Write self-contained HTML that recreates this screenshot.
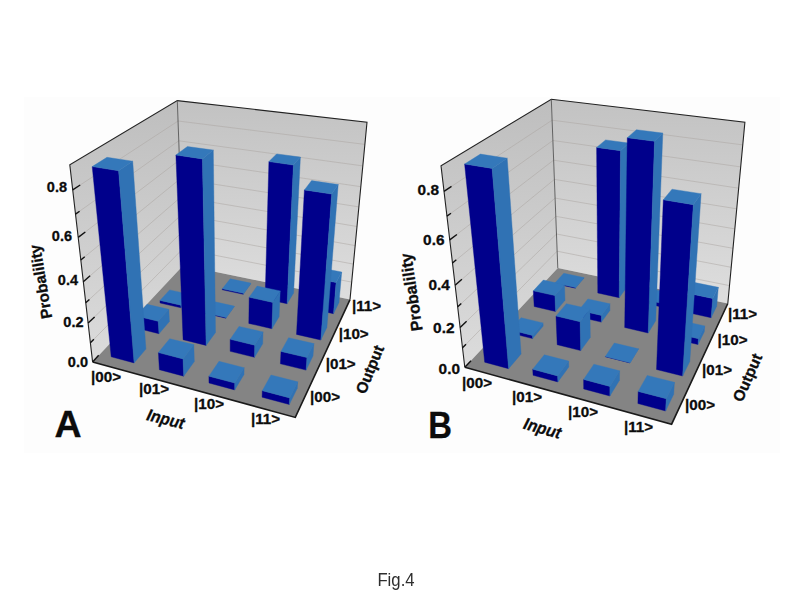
<!DOCTYPE html>
<html><head><meta charset="utf-8"><title>Fig.4</title>
<style>
html,body{margin:0;padding:0;background:#fff;width:800px;height:600px;overflow:hidden;font-family:"Liberation Sans",sans-serif;}
</style></head><body>
<svg width="800" height="600" viewBox="0 0 800 600" style="position:absolute;left:0;top:0;filter:blur(0.55px)">
<defs>
<linearGradient id="wl" x1="0" y1="0" x2="0" y2="1"><stop offset="0" stop-color="#bebebe"/><stop offset="1" stop-color="#dcdcdc"/></linearGradient>
<linearGradient id="wb" x1="0" y1="0" x2="0" y2="1"><stop offset="0" stop-color="#c2c2c2"/><stop offset="1" stop-color="#dedede"/></linearGradient>
</defs>
<rect x="24" y="97" width="756" height="356" fill="#fdfdfd"/>
<g>
<polygon points="92.6,361.9 183.3,265.3 177.3,100.6 69.8,164.9" fill="url(#wl)" />
<polygon points="183.3,265.3 350.0,299.6 367.0,122.2 177.3,100.6" fill="url(#wb)" />
<polyline points="90.4,342.8 182.7,248.9 351.7,282.1" fill="none" stroke="#aaa4a0" stroke-opacity="0.55" stroke-width="0.9"/>
<polyline points="88.1,323.1 182.1,232.0 353.4,264.1" fill="none" stroke="#aaa4a0" stroke-opacity="0.55" stroke-width="0.9"/>
<polyline points="85.7,302.8 181.5,214.7 355.2,245.6" fill="none" stroke="#aaa4a0" stroke-opacity="0.55" stroke-width="0.9"/>
<polyline points="83.3,281.7 180.9,197.0 357.0,226.5" fill="none" stroke="#aaa4a0" stroke-opacity="0.55" stroke-width="0.9"/>
<polyline points="80.8,260.0 180.2,178.8 358.9,206.9" fill="none" stroke="#aaa4a0" stroke-opacity="0.55" stroke-width="0.9"/>
<polyline points="78.2,237.4 179.5,160.0 360.8,186.7" fill="none" stroke="#aaa4a0" stroke-opacity="0.55" stroke-width="0.9"/>
<polyline points="75.5,214.1 178.8,140.8 362.8,165.9" fill="none" stroke="#aaa4a0" stroke-opacity="0.55" stroke-width="0.9"/>
<polyline points="72.7,189.9 178.1,121.0 364.9,144.4" fill="none" stroke="#aaa4a0" stroke-opacity="0.55" stroke-width="0.9"/>
<polygon points="92.6,361.9 295.3,417.4 350.0,299.6 183.3,265.3" fill="#848484" />
<polyline points="92.6,361.9 69.8,164.9 177.3,100.6 367.0,122.2 350.0,299.6" fill="none" stroke="#222" stroke-width="1.1"/>
<polyline points="177.3,100.6 183.3,265.3" fill="none" stroke="#555" stroke-width="0.9"/>
<polygon points="222.3,289.8 243.3,294.3 243.3,293.3 222.3,288.8" fill="#00008b" stroke="#00008b" stroke-width="0.4"/>
<polygon points="243.3,294.3 250.7,284.1 250.7,283.1 243.3,293.3" fill="#3072b4" stroke="#3072b4" stroke-width="0.4"/>
<polygon points="222.3,288.8 243.3,293.3 250.7,283.1 230.2,278.8" fill="#3478ba" stroke="#3478ba" stroke-width="0.4"/>
<polygon points="265.1,299.0 287.1,303.7 293.4,165.1 268.9,161.6" fill="#00008b" stroke="#00008b" stroke-width="0.4"/>
<polygon points="287.1,303.7 293.6,293.1 300.4,157.1 293.4,165.1" fill="#3072b4" stroke="#3072b4" stroke-width="0.4"/>
<polygon points="268.9,161.6 293.4,165.1 300.4,157.1 276.6,153.9" fill="#3478ba" stroke="#3478ba" stroke-width="0.4"/>
<polygon points="310.5,308.8 333.5,313.7 336.1,282.6 312.5,277.9" fill="#00008b" stroke="#00008b" stroke-width="0.4"/>
<polygon points="333.5,313.7 339.0,302.5 341.7,272.0 336.1,282.6" fill="#3072b4" stroke="#3072b4" stroke-width="0.4"/>
<polygon points="312.5,277.9 336.1,282.6 341.7,272.0 318.5,267.5" fill="#3478ba" stroke="#3478ba" stroke-width="0.4"/>
<polygon points="160.1,303.0 181.0,307.8 180.9,305.2 160.0,300.4" fill="#00008b" stroke="#00008b" stroke-width="0.4"/>
<polygon points="181.0,307.8 190.2,297.0 190.2,294.4 180.9,305.2" fill="#3072b4" stroke="#3072b4" stroke-width="0.4"/>
<polygon points="160.0,300.4 180.9,305.2 190.2,294.4 169.6,289.9" fill="#3478ba" stroke="#3478ba" stroke-width="0.4"/>
<polygon points="204.0,313.1 225.9,318.2 225.9,317.5 204.0,312.4" fill="#00008b" stroke="#00008b" stroke-width="0.4"/>
<polygon points="225.9,318.2 234.2,306.8 234.2,306.1 225.9,317.5" fill="#3072b4" stroke="#3072b4" stroke-width="0.4"/>
<polygon points="204.0,312.4 225.9,317.5 234.2,306.1 212.7,301.3" fill="#3478ba" stroke="#3478ba" stroke-width="0.4"/>
<polygon points="248.8,323.4 271.9,328.7 272.8,302.4 249.2,297.3" fill="#00008b" stroke="#00008b" stroke-width="0.4"/>
<polygon points="271.9,328.7 279.1,316.8 280.2,290.9 272.8,302.4" fill="#3072b4" stroke="#3072b4" stroke-width="0.4"/>
<polygon points="249.2,297.3 272.8,302.4 280.2,290.9 257.1,286.1" fill="#3478ba" stroke="#3478ba" stroke-width="0.4"/>
<polygon points="296.5,334.4 320.8,340.0 331.7,194.1 304.4,189.9" fill="#00008b" stroke="#00008b" stroke-width="0.4"/>
<polygon points="320.8,340.0 326.9,327.4 338.2,184.5 331.7,194.1" fill="#3072b4" stroke="#3072b4" stroke-width="0.4"/>
<polygon points="304.4,189.9 331.7,194.1 338.2,184.5 311.6,180.6" fill="#3478ba" stroke="#3478ba" stroke-width="0.4"/>
<polygon points="137.1,328.3 159.0,333.7 158.2,321.3 136.2,315.9" fill="#00008b" stroke="#00008b" stroke-width="0.4"/>
<polygon points="159.0,333.7 169.4,321.5 168.8,309.3 158.2,321.3" fill="#3072b4" stroke="#3072b4" stroke-width="0.4"/>
<polygon points="136.2,315.9 158.2,321.3 168.8,309.3 147.1,304.3" fill="#3478ba" stroke="#3478ba" stroke-width="0.4"/>
<polygon points="183.1,339.7 206.1,345.4 202.4,158.9 175.9,155.0" fill="#00008b" stroke="#00008b" stroke-width="0.4"/>
<polygon points="206.1,345.4 215.5,332.5 213.3,150.1 202.4,158.9" fill="#3072b4" stroke="#3072b4" stroke-width="0.4"/>
<polygon points="175.9,155.0 202.4,158.9 213.3,150.1 187.4,146.5" fill="#3478ba" stroke="#3478ba" stroke-width="0.4"/>
<polygon points="230.2,351.3 254.5,357.3 254.7,345.2 230.2,339.3" fill="#00008b" stroke="#00008b" stroke-width="0.4"/>
<polygon points="254.5,357.3 262.7,343.8 263.0,331.9 254.7,345.2" fill="#3072b4" stroke="#3072b4" stroke-width="0.4"/>
<polygon points="230.2,339.3 254.7,345.2 263.0,331.9 239.0,326.4" fill="#3478ba" stroke="#3478ba" stroke-width="0.4"/>
<polygon points="280.4,363.8 306.1,370.1 306.9,357.6 281.0,351.4" fill="#00008b" stroke="#00008b" stroke-width="0.4"/>
<polygon points="306.1,370.1 313.0,355.9 313.9,343.6 306.9,357.6" fill="#3072b4" stroke="#3072b4" stroke-width="0.4"/>
<polygon points="281.0,351.4 306.9,357.6 313.9,343.6 288.6,337.7" fill="#3478ba" stroke="#3478ba" stroke-width="0.4"/>
<polygon points="111.2,356.8 134.1,362.9 118.6,170.8 92.2,166.6" fill="#00008b" stroke="#00008b" stroke-width="0.4"/>
<polygon points="134.1,362.9 145.9,349.1 132.7,161.2 118.6,170.8" fill="#3072b4" stroke="#3072b4" stroke-width="0.4"/>
<polygon points="92.2,166.6 118.6,170.8 132.7,161.2 107.0,157.3" fill="#3478ba" stroke="#3478ba" stroke-width="0.4"/>
<polygon points="159.4,369.7 183.7,376.2 183.0,358.9 158.4,352.6" fill="#00008b" stroke="#00008b" stroke-width="0.4"/>
<polygon points="183.7,376.2 194.3,361.6 193.8,344.6 183.0,358.9" fill="#3072b4" stroke="#3072b4" stroke-width="0.4"/>
<polygon points="158.4,352.6 183.0,358.9 193.8,344.6 169.7,338.7" fill="#3478ba" stroke="#3478ba" stroke-width="0.4"/>
<polygon points="209.0,383.0 234.7,389.9 234.7,383.0 208.9,376.2" fill="#00008b" stroke="#00008b" stroke-width="0.4"/>
<polygon points="234.7,389.9 244.0,374.5 244.1,367.7 234.7,383.0" fill="#3072b4" stroke="#3072b4" stroke-width="0.4"/>
<polygon points="208.9,376.2 234.7,383.0 244.1,367.7 219.0,361.3" fill="#3478ba" stroke="#3478ba" stroke-width="0.4"/>
<polygon points="262.1,397.2 289.3,404.5 289.7,397.9 262.3,390.7" fill="#00008b" stroke="#00008b" stroke-width="0.4"/>
<polygon points="289.3,404.5 297.3,388.2 297.7,381.8 289.7,397.9" fill="#3072b4" stroke="#3072b4" stroke-width="0.4"/>
<polygon points="262.3,390.7 289.7,397.9 297.7,381.8 271.0,375.0" fill="#3478ba" stroke="#3478ba" stroke-width="0.4"/>
<polyline points="92.6,361.9 295.3,417.4 350.0,299.6" fill="none" stroke="#1a1a1a" stroke-width="1.6"/>
<line x1="92.6" y1="361.9" x2="98.7" y2="355.3" stroke="#111" stroke-width="1.4"/>
<line x1="90.4" y1="342.8" x2="93.9" y2="339.3" stroke="#111" stroke-width="1.4"/>
<line x1="88.1" y1="323.1" x2="94.6" y2="316.9" stroke="#111" stroke-width="1.4"/>
<line x1="85.7" y1="302.8" x2="89.4" y2="299.4" stroke="#111" stroke-width="1.4"/>
<line x1="83.3" y1="281.7" x2="90.1" y2="275.8" stroke="#111" stroke-width="1.4"/>
<line x1="80.8" y1="260.0" x2="84.7" y2="256.8" stroke="#111" stroke-width="1.4"/>
<line x1="78.2" y1="237.4" x2="85.3" y2="232.0" stroke="#111" stroke-width="1.4"/>
<line x1="75.5" y1="214.1" x2="79.6" y2="211.2" stroke="#111" stroke-width="1.4"/>
<line x1="72.7" y1="189.9" x2="80.2" y2="185.0" stroke="#111" stroke-width="1.4"/>
</g>
<g>
<polygon points="464.8,367.3 557.8,268.1 551.3,99.3 441.0,165.7" fill="url(#wl)" />
<polygon points="557.8,268.1 727.8,303.5 744.9,122.3 551.3,99.3" fill="url(#wb)" />
<polyline points="462.5,347.8 557.1,251.2 729.5,285.6" fill="none" stroke="#aaa4a0" stroke-opacity="0.55" stroke-width="0.9"/>
<polyline points="460.1,327.6 556.5,234.0 731.2,267.3" fill="none" stroke="#aaa4a0" stroke-opacity="0.55" stroke-width="0.9"/>
<polyline points="457.7,306.8 555.8,216.3 733.0,248.3" fill="none" stroke="#aaa4a0" stroke-opacity="0.55" stroke-width="0.9"/>
<polyline points="455.1,285.3 555.1,198.1 734.8,228.9" fill="none" stroke="#aaa4a0" stroke-opacity="0.55" stroke-width="0.9"/>
<polyline points="452.5,263.0 554.4,179.4 736.7,208.8" fill="none" stroke="#aaa4a0" stroke-opacity="0.55" stroke-width="0.9"/>
<polyline points="449.7,239.9 553.6,160.2 738.7,188.2" fill="none" stroke="#aaa4a0" stroke-opacity="0.55" stroke-width="0.9"/>
<polyline points="446.9,216.1 552.9,140.5 740.7,166.9" fill="none" stroke="#aaa4a0" stroke-opacity="0.55" stroke-width="0.9"/>
<polyline points="444.0,191.3 552.1,120.2 742.8,144.9" fill="none" stroke="#aaa4a0" stroke-opacity="0.55" stroke-width="0.9"/>
<polygon points="464.8,367.3 671.6,424.2 727.8,303.5 557.8,268.1" fill="#848484" />
<polyline points="464.8,367.3 441.0,165.7 551.3,99.3 744.9,122.3 727.8,303.5" fill="none" stroke="#222" stroke-width="1.1"/>
<polyline points="551.3,99.3 557.8,268.1" fill="none" stroke="#555" stroke-width="0.9"/>
<polygon points="554.9,283.7 575.4,288.2 575.3,287.5 554.9,283.0" fill="#00008b" stroke="#00008b" stroke-width="0.4"/>
<polygon points="575.4,288.2 583.9,278.2 583.8,277.5 575.3,287.5" fill="#3072b4" stroke="#3072b4" stroke-width="0.4"/>
<polygon points="554.9,283.0 575.3,287.5 583.8,277.5 563.8,273.3" fill="#3478ba" stroke="#3478ba" stroke-width="0.4"/>
<polygon points="597.8,293.0 619.2,297.7 620.5,150.7 596.6,147.4" fill="#00008b" stroke="#00008b" stroke-width="0.4"/>
<polygon points="619.2,297.7 626.8,287.2 628.9,143.1 620.5,150.7" fill="#3072b4" stroke="#3072b4" stroke-width="0.4"/>
<polygon points="596.6,147.4 620.5,150.7 628.9,143.1 605.6,139.9" fill="#3478ba" stroke="#3478ba" stroke-width="0.4"/>
<polygon points="641.4,302.5 663.8,307.4 664.0,303.8 641.5,299.0" fill="#00008b" stroke="#00008b" stroke-width="0.4"/>
<polygon points="663.8,307.4 670.5,296.4 670.6,292.9 664.0,303.8" fill="#3072b4" stroke="#3072b4" stroke-width="0.4"/>
<polygon points="641.5,299.0 664.0,303.8 670.6,292.9 648.7,288.4" fill="#3478ba" stroke="#3478ba" stroke-width="0.4"/>
<polygon points="687.7,312.6 711.1,317.7 712.7,298.5 688.9,293.5" fill="#00008b" stroke="#00008b" stroke-width="0.4"/>
<polygon points="711.1,317.7 716.7,306.2 718.3,287.3 712.7,298.5" fill="#3072b4" stroke="#3072b4" stroke-width="0.4"/>
<polygon points="688.9,293.5 712.7,298.5 718.3,287.3 695.0,282.6" fill="#3478ba" stroke="#3478ba" stroke-width="0.4"/>
<polygon points="534.2,306.5 555.6,311.5 554.9,295.6 533.3,290.8" fill="#00008b" stroke="#00008b" stroke-width="0.4"/>
<polygon points="555.6,311.5 565.0,300.3 564.5,284.7 554.9,295.6" fill="#3072b4" stroke="#3072b4" stroke-width="0.4"/>
<polygon points="533.3,290.8 554.9,295.6 564.5,284.7 543.3,280.1" fill="#3478ba" stroke="#3478ba" stroke-width="0.4"/>
<polygon points="579.0,316.9 601.4,322.1 601.4,315.4 578.8,310.2" fill="#00008b" stroke="#00008b" stroke-width="0.4"/>
<polygon points="601.4,322.1 609.9,310.4 609.9,303.8 601.4,315.4" fill="#3072b4" stroke="#3072b4" stroke-width="0.4"/>
<polygon points="578.8,310.2 601.4,315.4 609.9,303.8 587.9,298.9" fill="#3478ba" stroke="#3478ba" stroke-width="0.4"/>
<polygon points="624.7,327.5 648.2,333.0 654.5,141.3 627.3,137.7" fill="#00008b" stroke="#00008b" stroke-width="0.4"/>
<polygon points="648.2,333.0 655.7,320.7 662.8,133.1 654.5,141.3" fill="#3072b4" stroke="#3072b4" stroke-width="0.4"/>
<polygon points="627.3,137.7 654.5,141.3 662.8,133.1 636.4,129.7" fill="#3478ba" stroke="#3478ba" stroke-width="0.4"/>
<polygon points="673.3,338.8 698.0,344.5 698.4,338.7 673.6,333.0" fill="#00008b" stroke="#00008b" stroke-width="0.4"/>
<polygon points="698.0,344.5 704.3,331.7 704.7,325.9 698.4,338.7" fill="#3072b4" stroke="#3072b4" stroke-width="0.4"/>
<polygon points="673.6,333.0 698.4,338.7 704.7,325.9 680.5,320.6" fill="#3478ba" stroke="#3478ba" stroke-width="0.4"/>
<polygon points="510.2,333.0 532.6,338.6 532.4,335.4 509.9,329.8" fill="#00008b" stroke="#00008b" stroke-width="0.4"/>
<polygon points="532.6,338.6 543.2,326.0 543.0,322.9 532.4,335.4" fill="#3072b4" stroke="#3072b4" stroke-width="0.4"/>
<polygon points="509.9,329.8 532.4,335.4 543.0,322.9 521.1,317.7" fill="#3478ba" stroke="#3478ba" stroke-width="0.4"/>
<polygon points="557.2,344.7 580.7,350.6 580.1,321.7 556.0,316.0" fill="#00008b" stroke="#00008b" stroke-width="0.4"/>
<polygon points="580.7,350.6 590.3,337.4 589.9,309.0 580.1,321.7" fill="#3072b4" stroke="#3072b4" stroke-width="0.4"/>
<polygon points="556.0,316.0 580.1,321.7 589.9,309.0 566.4,303.7" fill="#3478ba" stroke="#3478ba" stroke-width="0.4"/>
<polygon points="605.3,356.7 630.0,362.9 630.0,362.7 605.3,356.5" fill="#00008b" stroke="#00008b" stroke-width="0.4"/>
<polygon points="630.0,362.9 638.5,349.0 638.5,348.8 630.0,362.7" fill="#3072b4" stroke="#3072b4" stroke-width="0.4"/>
<polygon points="605.3,356.5 630.0,362.7 638.5,348.8 614.3,343.0" fill="#3478ba" stroke="#3478ba" stroke-width="0.4"/>
<polygon points="656.5,369.5 682.6,376.0 693.3,204.7 663.3,199.8" fill="#00008b" stroke="#00008b" stroke-width="0.4"/>
<polygon points="682.6,376.0 689.8,361.4 701.1,193.7 693.3,204.7" fill="#3072b4" stroke="#3072b4" stroke-width="0.4"/>
<polygon points="663.3,199.8 693.3,204.7 701.1,193.7 672.0,189.2" fill="#3478ba" stroke="#3478ba" stroke-width="0.4"/>
<polygon points="484.7,362.2 508.6,368.7 492.1,168.4 464.6,164.0" fill="#00008b" stroke="#00008b" stroke-width="0.4"/>
<polygon points="508.6,368.7 521.1,353.9 507.2,158.2 492.1,168.4" fill="#3072b4" stroke="#3072b4" stroke-width="0.4"/>
<polygon points="464.6,164.0 492.1,168.4 507.2,158.2 480.4,154.1" fill="#3478ba" stroke="#3478ba" stroke-width="0.4"/>
<polygon points="533.1,375.3 557.9,381.9 557.6,375.9 532.7,369.2" fill="#00008b" stroke="#00008b" stroke-width="0.4"/>
<polygon points="557.9,381.9 568.8,367.0 568.6,361.0 557.6,375.9" fill="#3072b4" stroke="#3072b4" stroke-width="0.4"/>
<polygon points="532.7,369.2 557.6,375.9 568.6,361.0 544.3,354.8" fill="#3478ba" stroke="#3478ba" stroke-width="0.4"/>
<polygon points="583.7,388.9 609.9,396.0 609.9,386.4 583.6,379.4" fill="#00008b" stroke="#00008b" stroke-width="0.4"/>
<polygon points="609.9,396.0 619.5,380.2 619.6,370.8 609.9,386.4" fill="#3072b4" stroke="#3072b4" stroke-width="0.4"/>
<polygon points="583.6,379.4 609.9,386.4 619.6,370.8 593.9,364.2" fill="#3478ba" stroke="#3478ba" stroke-width="0.4"/>
<polygon points="637.9,403.5 665.6,411.0 666.2,398.7 638.2,391.4" fill="#00008b" stroke="#00008b" stroke-width="0.4"/>
<polygon points="665.6,411.0 673.7,394.3 674.4,382.3 666.2,398.7" fill="#3072b4" stroke="#3072b4" stroke-width="0.4"/>
<polygon points="638.2,391.4 666.2,398.7 674.4,382.3 647.2,375.4" fill="#3478ba" stroke="#3478ba" stroke-width="0.4"/>
<polyline points="464.8,367.3 671.6,424.2 727.8,303.5" fill="none" stroke="#1a1a1a" stroke-width="1.6"/>
<line x1="464.8" y1="367.3" x2="471.0" y2="360.7" stroke="#111" stroke-width="1.4"/>
<line x1="462.5" y1="347.8" x2="466.0" y2="344.2" stroke="#111" stroke-width="1.4"/>
<line x1="460.1" y1="327.6" x2="466.6" y2="321.3" stroke="#111" stroke-width="1.4"/>
<line x1="457.7" y1="306.8" x2="461.3" y2="303.4" stroke="#111" stroke-width="1.4"/>
<line x1="455.1" y1="285.3" x2="461.9" y2="279.3" stroke="#111" stroke-width="1.4"/>
<line x1="452.5" y1="263.0" x2="456.3" y2="259.8" stroke="#111" stroke-width="1.4"/>
<line x1="449.7" y1="239.9" x2="456.9" y2="234.5" stroke="#111" stroke-width="1.4"/>
<line x1="446.9" y1="216.1" x2="451.0" y2="213.2" stroke="#111" stroke-width="1.4"/>
<line x1="444.0" y1="191.3" x2="451.5" y2="186.4" stroke="#111" stroke-width="1.4"/>
</g>
<g font-family="Liberation Sans, sans-serif" fill="#0c0c0c" stroke="#0c0c0c" stroke-width="0.3">
<text x="88" y="366.5" font-size="14.5" font-weight="bold" font-style="normal" text-anchor="end">0.0</text>
<text x="83.5" y="327" font-size="14.5" font-weight="bold" font-style="normal" text-anchor="end">0.2</text>
<text x="78" y="285" font-size="14.5" font-weight="bold" font-style="normal" text-anchor="end">0.4</text>
<text x="72" y="241" font-size="14.5" font-weight="bold" font-style="normal" text-anchor="end">0.6</text>
<text x="67" y="192" font-size="14.5" font-weight="bold" font-style="normal" text-anchor="end">0.8</text>
<text x="52.3" y="317.8" font-size="15.5" font-weight="bold" font-style="normal" text-anchor="start" transform="rotate(-99.5 52.3 317.8)">Probalility</text>
<text x="91" y="381.5" font-size="15.2" font-weight="bold" font-style="normal" text-anchor="start">|00&gt;</text>
<text x="139" y="393.5" font-size="15.2" font-weight="bold" font-style="normal" text-anchor="start">|01&gt;</text>
<text x="194" y="408.5" font-size="15.2" font-weight="bold" font-style="normal" text-anchor="start">|10&gt;</text>
<text x="251" y="423.5" font-size="15.2" font-weight="bold" font-style="normal" text-anchor="start">|11&gt;</text>
<text x="310" y="402.0" font-size="15.2" font-weight="bold" font-style="normal" text-anchor="start">|00&gt;</text>
<text x="325.7" y="369.0" font-size="15.2" font-weight="bold" font-style="normal" text-anchor="start">|01&gt;</text>
<text x="338.7" y="339.0" font-size="15.2" font-weight="bold" font-style="normal" text-anchor="start">|10&gt;</text>
<text x="352" y="311.0" font-size="15.2" font-weight="bold" font-style="normal" text-anchor="start">|11&gt;</text>
<text transform="translate(145.8 420) rotate(14) scale(0.93 1)" font-size="16.8" font-weight="bold" font-style="italic">Input</text>
<text x="365.3" y="395" font-size="15.5" font-weight="bold" font-style="normal" text-anchor="start" transform="rotate(-68 365.3 395)">Output</text>
<text x="54.5" y="436.5" font-size="37.5" font-weight="bold" font-style="normal" text-anchor="start">A</text>
<text x="460" y="374" font-size="15.4" font-weight="bold" font-style="normal" text-anchor="end">0.0</text>
<text x="454.5" y="333" font-size="15.4" font-weight="bold" font-style="normal" text-anchor="end">0.2</text>
<text x="449.8" y="290" font-size="15.4" font-weight="bold" font-style="normal" text-anchor="end">0.4</text>
<text x="444.5" y="244.5" font-size="15.4" font-weight="bold" font-style="normal" text-anchor="end">0.6</text>
<text x="439" y="195" font-size="15.4" font-weight="bold" font-style="normal" text-anchor="end">0.8</text>
<text x="422.7" y="330.3" font-size="16.3" font-weight="bold" font-style="normal" text-anchor="start" transform="rotate(-98.5 422.7 330.3)">Probalility</text>
<text x="462" y="387.5" font-size="15.2" font-weight="bold" font-style="normal" text-anchor="start">|00&gt;</text>
<text x="512" y="401.5" font-size="15.2" font-weight="bold" font-style="normal" text-anchor="start">|01&gt;</text>
<text x="568" y="416.5" font-size="15.2" font-weight="bold" font-style="normal" text-anchor="start">|10&gt;</text>
<text x="624" y="431.5" font-size="15.2" font-weight="bold" font-style="normal" text-anchor="start">|11&gt;</text>
<text x="685" y="410.0" font-size="15.2" font-weight="bold" font-style="normal" text-anchor="start">|00&gt;</text>
<text x="702" y="375.0" font-size="15.2" font-weight="bold" font-style="normal" text-anchor="start">|01&gt;</text>
<text x="717.5" y="345.0" font-size="15.2" font-weight="bold" font-style="normal" text-anchor="start">|10&gt;</text>
<text x="728" y="318.5" font-size="15.2" font-weight="bold" font-style="normal" text-anchor="start">|11&gt;</text>
<text transform="translate(522.5 428.5) rotate(16) scale(0.93 1)" font-size="16.8" font-weight="bold" font-style="italic">Input</text>
<text x="742" y="403" font-size="15.5" font-weight="bold" font-style="normal" text-anchor="start" transform="rotate(-66 742 403)">Output</text>
<text transform="translate(428.3 437.5) scale(0.9 1)" font-size="36.5" font-weight="bold">B</text>
</g>
<text transform="translate(396 586.3) scale(0.95 1)" font-family="Liberation Sans, sans-serif" font-size="17.6" fill="#2e2e2e" text-anchor="middle">Fig.4</text>
</svg>
</body></html>
